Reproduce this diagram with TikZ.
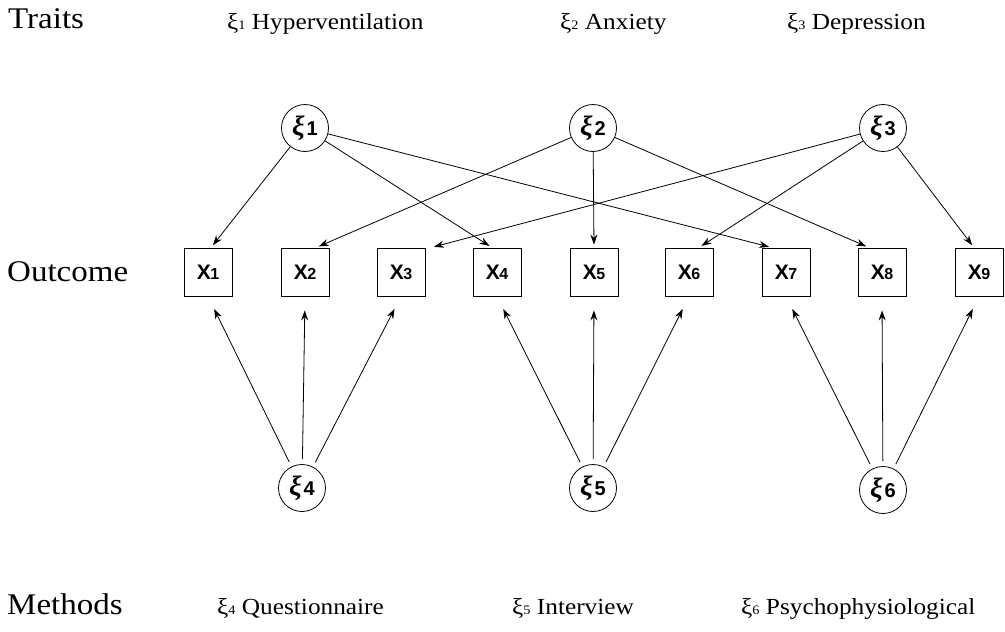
\documentclass[tikz,border=0pt]{standalone}
\usepackage{fontspec}
\setmainfont{Liberation Serif}
\newfontfamily\lab[FakeStretch=1.1]{Liberation Serif}
\newfontfamily\sfx{Liberation Sans}
\newfontfamily\gk{Liberation Serif}
\usetikzlibrary{arrows.meta,calc}
\tikzset{
  obs/.style={draw,line width=0.8pt,minimum width=48pt,minimum height=48pt,inner sep=0pt,font=\sfx\bfseries\fontsize{21}{21}\selectfont},
  lat/.style={draw,circle,line width=0.8pt,minimum size=47pt,inner sep=0pt},
  arr/.style={line width=0.8pt,-{Stealth[length=10pt,width=7pt]}},
  bigl/.style={anchor=base west,inner sep=0pt,font=\lab\fontsize{30}{30}\selectfont},
  smalll/.style={anchor=base west,inner sep=0pt,font=\lab\fontsize{23}{23}\selectfont},
}
\newcommand{\xv}[1]{X\kern-0.5pt{\fontsize{16}{16}\selectfont #1}}
\newcommand{\xil}[1]{{\gk\bfseries\itshape\fontsize{28}{28}\selectfont ξ}\kern2pt{\sfx\bfseries\fontsize{20}{20}\selectfont #1}}
\newcommand{\xis}[1]{ξ{\fontsize{13}{13}\selectfont #1}}
\begin{document}
\begin{tikzpicture}[x=1pt,y=-1pt]
\useasboundingbox (0,0) rectangle (1005,632);
% observed
\foreach \i/\x in {1/208,2/305,3/401,4/497,5/594,6/689,7/786,8/882,9/979}
  \node[obs] (X\i) at (\x,272) {\xv{\i}};
% latent
\node[lat] (k1) at (305,128) {\xil{1}};
\node[lat] (k2) at (593,128) {\xil{2}};
\node[lat] (k3) at (883,128) {\xil{3}};
\node[lat] (k4) at (302,488) {\xil{4}};
\node[lat] (k5) at (593,488) {\xil{5}};
\node[lat] (k6) at (883,490) {\xil{6}};
% trait loadings
\draw[arr,shorten >=3pt] (k1) -- ([xshift=3pt]X1.north);
\draw[arr,shorten >=3pt] (k1) -- ([xshift=-5pt]X4.north);
\draw[arr,shorten >=3pt] (k1) -- ([xshift=-14pt]X7.north);
\draw[arr,shorten >=3pt] (k2) -- ([xshift=11pt]X2.north);
\draw[arr,shorten >=3pt] (k2) -- (X5.north);
\draw[arr,shorten >=3pt] (k2) -- ([xshift=-13pt]X8.north);
\draw[arr,shorten >=3pt] (k3) -- ([xshift=30pt]X3.north);
\draw[arr,shorten >=3pt] (k3) -- ([xshift=10pt]X6.north);
\draw[arr,shorten >=3pt] (k3) -- ([xshift=-5pt]X9.north);
% method loadings
\foreach \m/\a/\b/\c in {k4/X1/X2/X3,k5/X4/X5/X6,k6/X7/X8/X9}{
  \draw[arr,shorten <=5pt,shorten >=14pt] (\m) -- (\a.south);
  \draw[arr,shorten <=5pt,shorten >=14pt] (\m) -- (\b.south);
  \draw[arr,shorten <=5pt,shorten >=14pt] (\m) -- (\c.south);
}
% labels
\node[bigl] (tT) at (8,28) {Traits};
\node[smalll] (t1) at (227,29) {\xis{1} Hyperventilation};
\node[smalll] (t2) at (560,29) {\xis{2} Anxiety};
\node[smalll] (t3) at (787,29) {\xis{3} Depression};
\node[bigl] (tO) at (7,281) {Outcome};
\node[bigl] (tM) at (7,614) {Methods};
\node[smalll] (m1) at (217,614) {\xis{4} Questionnaire};
\node[smalll] (m2) at (512,614) {\xis{5} Interview};
\node[smalll] (m3) at (741,614) {\xis{6} Psychophysiological};
\end{tikzpicture}
\end{document}
